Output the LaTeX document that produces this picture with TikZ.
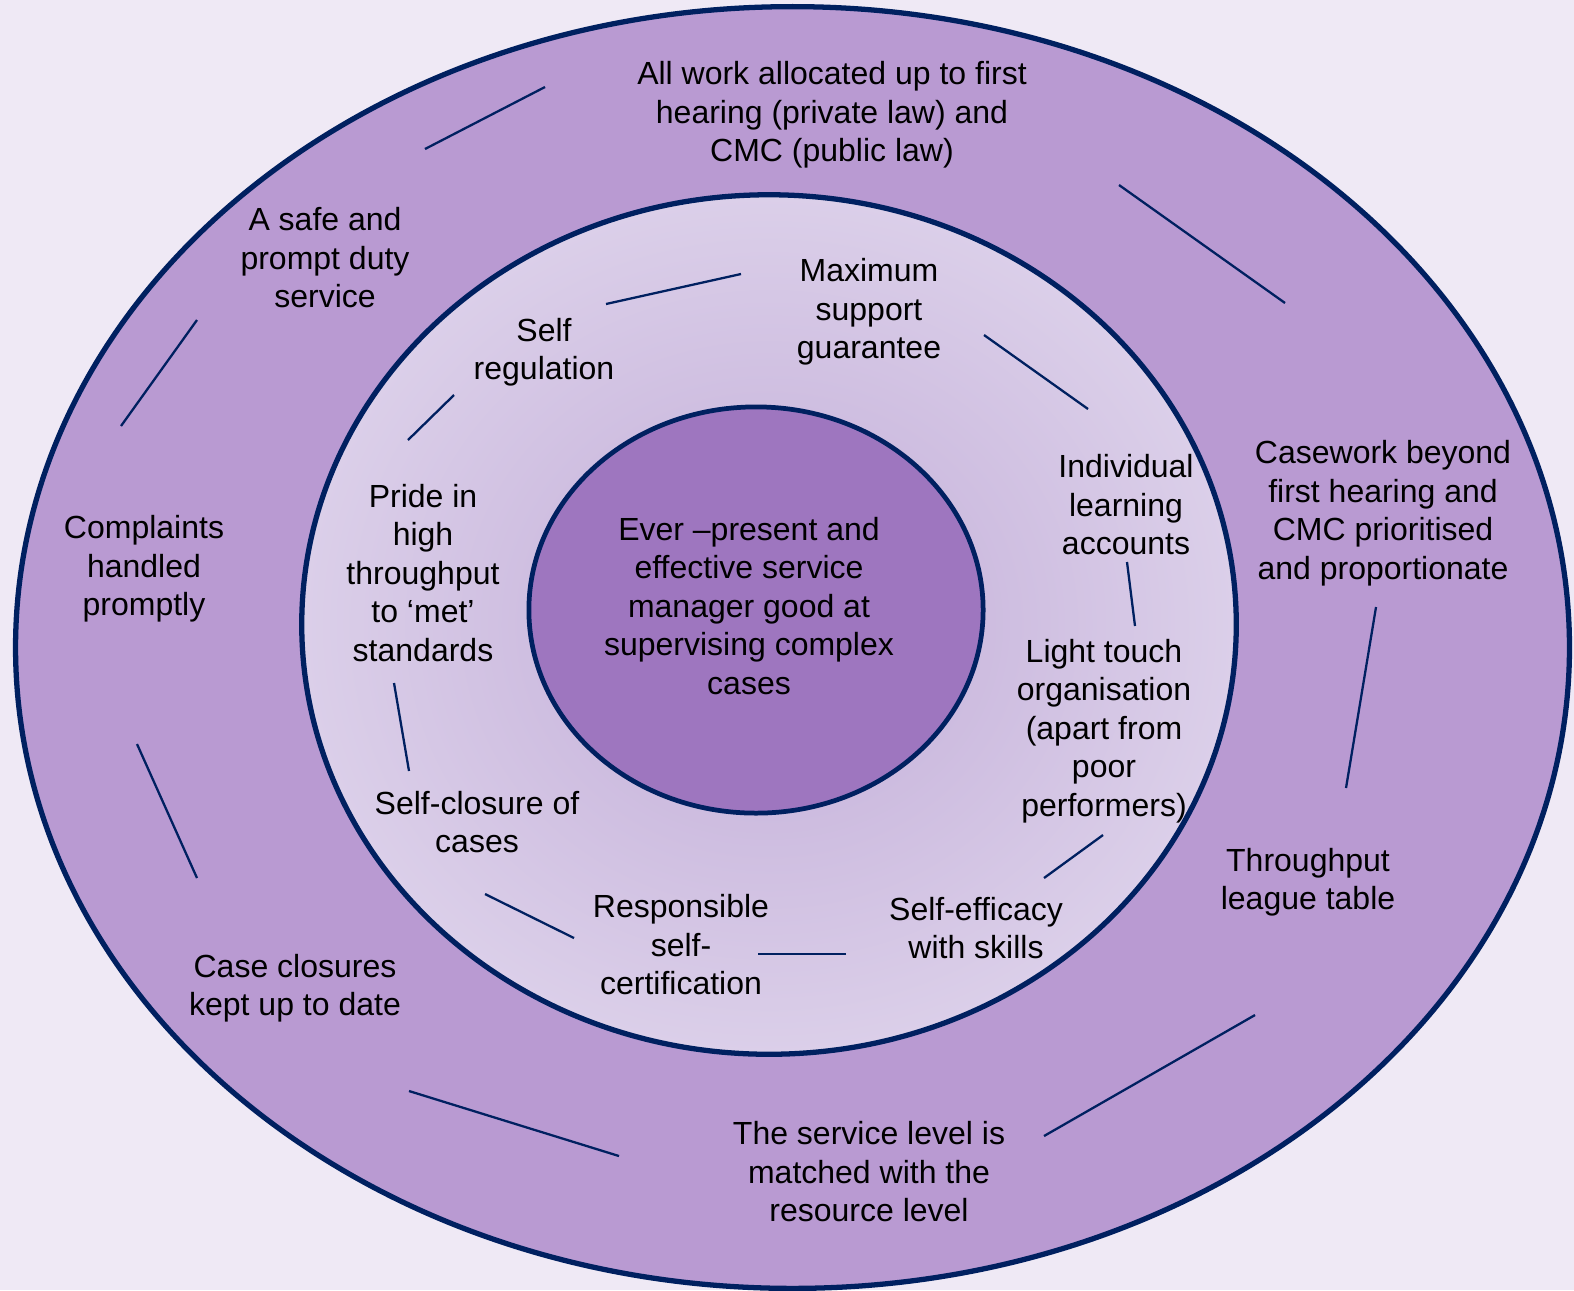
\documentclass[tikz,border=0pt]{standalone}
\usepackage{fontspec}
\setmainfont{Liberation Sans}
\usetikzlibrary{shapes.geometric}
\definecolor{bgcol}{HTML}{EFE9F5}
\definecolor{outercol}{HTML}{B99AD2}
\definecolor{navy}{HTML}{002060}
\definecolor{innercol}{HTML}{9E76BF}
\definecolor{midin}{HTML}{C2ADD8}
\definecolor{midout}{HTML}{DBCFE9}
\tikzset{
  lbl/.style={align=center, inner sep=0pt, font=\fontsize{9.1}{10.95}\selectfont, text=black},
  seg/.style={draw=navy, line width=0.65pt},
  ring/.style={draw=navy, line width=1.5pt}
}
\begin{document}
\begin{tikzpicture}[x=0.01cm, y=-0.01cm]
\fill[bgcol] (0,0) rectangle (1574,1290);
\useasboundingbox (0,0) rectangle (1574,1290);
% rings
\fill[outercol] (792.5,647.5) ellipse [x radius=7.765cm, y radius=6.405cm];
\draw[ring] (792.5,647.5) ellipse [x radius=7.765cm, y radius=6.405cm];
\shade[inner color=midin, outer color=midout] (769,624.5) ellipse [x radius=4.67cm, y radius=4.295cm];
\draw[ring] (769,624.5) ellipse [x radius=4.67cm, y radius=4.295cm];
\fill[innercol] (756,610) ellipse [x radius=2.27cm, y radius=2.03cm];
\draw[ring, line width=1.35pt] (756,610) ellipse [x radius=2.27cm, y radius=2.03cm];
% outer labels
\node[lbl] (allwork) at (832,115) {All work allocated up to first\\hearing (private law) and\\CMC (public law)};
\node[lbl] (duty) at (325,258) {A safe and\\prompt duty\\service};
\node[lbl] (complaints) at (144,569) {Complaints\\handled\\promptly};
\node[lbl] (closures) at (295,988) {Case closures\\kept up to date};
\node[lbl] (servicelevel) at (869,1172) {The service level is\\matched with the\\resource level};
\node[lbl] (league) at (1308,882) {Throughput\\league table};
\node[lbl] (casework) at (1383,513) {Casework beyond\\first hearing and\\CMC prioritised\\and proportionate};
% middle labels
\node[lbl] (maxsupport) at (869,312) {Maximum\\support\\guarantee};
\node[lbl] (selfreg) at (544,352) {Self\\regulation};
\node[lbl] (pride) at (423,573) {Pride in\\high\\throughput\\to ‘met’\\standards};
\node[lbl] (selfclose) at (477,822) {Self-closure of\\cases};
\node[lbl] (responsible) at (681,945) {Responsible\\self-\\certification};
\node[lbl] (efficacy) at (976,928) {Self-efficacy\\with skills};
\node[lbl] (light) at (1104,731) {Light touch\\organisation\\(apart from\\poor\\performers)};
\node[lbl] (ila) at (1126,505) {Individual\\learning\\accounts};
% centre
\node[lbl] (centre) at (749,606) {Ever –present and\\effective service\\manager good at\\supervising complex\\cases};
% segment end points
\coordinate (o1a) at (425,149); \coordinate (o1b) at (545,87);
\coordinate (o2a) at (1119,185); \coordinate (o2b) at (1285,303);
\coordinate (o3a) at (1376,607); \coordinate (o3b) at (1346,788);
\coordinate (o4a) at (1255,1015); \coordinate (o4b) at (1044,1136);
\coordinate (o5a) at (619,1156); \coordinate (o5b) at (409,1091);
\coordinate (o6a) at (197,878); \coordinate (o6b) at (137,744);
\coordinate (o7a) at (121,426); \coordinate (o7b) at (197,320);
\coordinate (m1a) at (606,304); \coordinate (m1b) at (741,274);
\coordinate (m2a) at (984,335); \coordinate (m2b) at (1088,409);
\coordinate (m3a) at (1127,562); \coordinate (m3b) at (1135,626);
\coordinate (m4a) at (1103,835); \coordinate (m4b) at (1044,878);
\coordinate (m5a) at (846,954); \coordinate (m5b) at (758,954);
\coordinate (m6a) at (574,938); \coordinate (m6b) at (485,894);
\coordinate (m7a) at (409,771); \coordinate (m7b) at (394,683);
\coordinate (m8a) at (408,440); \coordinate (m8b) at (454,395);
\foreach \s in {o1,o2,o3,o4,o5,o6,o7,m1,m2,m3,m4,m5,m6,m7,m8}
  \draw[seg] (\s a) -- (\s b);
\end{tikzpicture}
\end{document}
